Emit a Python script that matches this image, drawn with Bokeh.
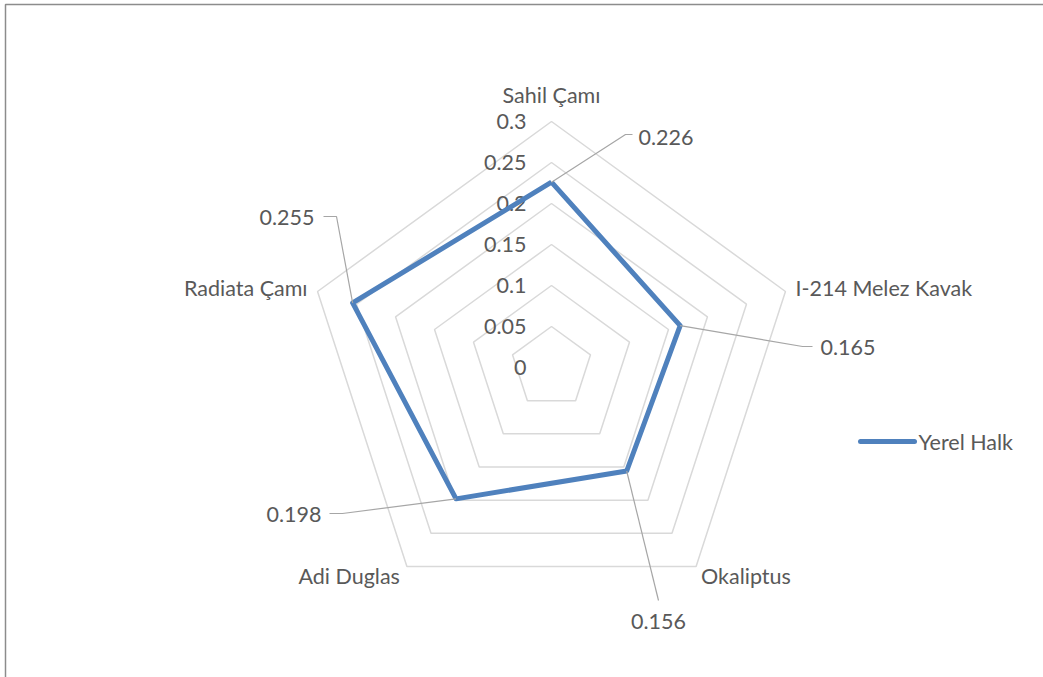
import numpy as np
from bokeh.plotting import figure
from bokeh.models import Range1d
from bokeh.core.properties import value
from bokeh.embed import file_html
from bokeh.resources import INLINE

# ---------------- data ----------------
categories = ["Sahil Çamı", "I-214 Melez Kavak", "Okaliptus", "Adi Duglas", "Radiata Çamı"]
series_name = "Yerel Halk"
series_values = [0.226, 0.165, 0.156, 0.198, 0.255]
ring_levels = [0.05, 0.10, 0.15, 0.20, 0.25, 0.30]
tick_values = [0.0, 0.05, 0.10, 0.15, 0.20, 0.25, 0.30]
tick_labels = ["0", "0.05", "0.1", "0.15", "0.2", "0.25", "0.3"]
value_labels = ["0.226", "0.165", "0.156", "0.198", "0.255"]

# ---------------- layout / style ----------------
W, H = 1043, 677
CX, CY = 551, 367          # centre of radar in pixels
SCALE = 820.0              # pixels per value unit
FONT = "Lato"
FS = "21.5px"
TXT = "#595959"
GRID = "#D9D9D9"
BLUE = "#4F81BD"
LEADER = "#A6A6A6"

n = len(categories)
angles = np.deg2rad(90 - 72 * np.arange(n))

def px(dx, dy):
    """pixel offset (right, up) -> data units"""
    return dx / SCALE, dy / SCALE

p = figure(width=W, height=H,
           x_range=Range1d(-CX / SCALE, (W - CX) / SCALE),
           y_range=Range1d(-(H - CY) / SCALE, CY / SCALE),
           output_backend="svg", toolbar_location=None,
           x_axis_location=None, y_axis_location=None,
           min_border=0, border_fill_color="white")
p.grid.visible = False
p.outline_line_color = None

# frame border (left and top) as in the screenshot
fx0, fy0 = -(CX - 5) / SCALE, (CY - 4) / SCALE
p.line(x=[fx0, fx0, (W - CX) / SCALE], y=[-(H - CY) / SCALE, fy0, fy0],
       line_color="#8C8C8C", line_width=1.5)

# rings
ring_xs, ring_ys = [], []
for lv in ring_levels:
    xs = list(lv * np.cos(angles)) + [lv * np.cos(angles[0])]
    ys = list(lv * np.sin(angles)) + [lv * np.sin(angles[0])]
    ring_xs.append(xs)
    ring_ys.append(ys)
p.multi_line(xs=ring_xs, ys=ring_ys, line_color=GRID, line_width=1.5)

# radial tick labels
p.text(x=[-25 / SCALE] * len(tick_values), y=tick_values, text=tick_labels,
       text_font=value(FONT), text_font_size=FS, text_color=TXT,
       text_align="right", text_baseline="middle")

# category labels (pixel offsets from outer vertex, align)
R = ring_levels[-1]
cat_offsets = [(0, 27, "center"), (10, 3, "left"), (5, -9, "left"),
               (-7, -9, "right"), (-10, 3, "right")]
cx_, cy_, ca_ = [], [], []
for k in range(n):
    dx, dy = px(cat_offsets[k][0], cat_offsets[k][1])
    cx_.append(R * np.cos(angles[k]) + dx)
    cy_.append(R * np.sin(angles[k]) + dy)
    ca_.append(cat_offsets[k][2])
p.text(x=cx_, y=cy_, text=categories, text_align=ca_,
       text_font=value(FONT), text_font_size=FS, text_color=TXT,
       text_baseline="middle")

# series polygon
vx = [v * np.cos(a) for v, a in zip(series_values, angles)]
vy = [v * np.sin(a) for v, a in zip(series_values, angles)]
p.line(x=vx + [vx[0]], y=vy + [vy[0]], line_color=BLUE, line_width=5,
       line_join="round")

# data-label leader lines: pixel points relative to centre
leader_pts = [
    [(625 - CX, CY - 134), (632 - CX, CY - 134)],
    [(802 - CX, CY - 346), (812 - CX, CY - 346)],
    [(658 - CX, CY - 600)],
    [(342 - CX, CY - 513), (329 - CX, CY - 513)],
    [(336 - CX, CY - 216), (323 - CX, CY - 216)],
]
label_pos = [(638 - CX, CY - 137, "left"), (820 - CX, CY - 347, "left"),
             (658 - CX, CY - 621, "center"), (321 - CX, CY - 514, "right"),
             (314 - CX, CY - 217, "right")]
lxs, lys = [], []
for k in range(n):
    lxs.append([vx[k]] + [a / SCALE for a, b in leader_pts[k]])
    lys.append([vy[k]] + [b / SCALE for a, b in leader_pts[k]])
p.multi_line(xs=lxs, ys=lys, line_color=LEADER, line_width=1.2)
p.text(x=[a / SCALE for a, b, c in label_pos], y=[b / SCALE for a, b, c in label_pos],
       text=value_labels, text_align=[c for a, b, c in label_pos],
       text_font=value(FONT), text_font_size=FS, text_color=TXT,
       text_baseline="middle")

# legend (manual)
lgx0, lgx1, lgy = (860 - CX) / SCALE, (914 - CX) / SCALE, (CY - 441) / SCALE
p.line(x=[lgx0, lgx1], y=[lgy, lgy], line_color=BLUE, line_width=5, line_cap="round")
p.text(x=[(918 - CX) / SCALE], y=[lgy], text=[series_name],
       text_font=value(FONT), text_font_size=FS, text_color=TXT,
       text_align="left", text_baseline="middle")

open("out.html", "w").write(file_html(p, INLINE))
